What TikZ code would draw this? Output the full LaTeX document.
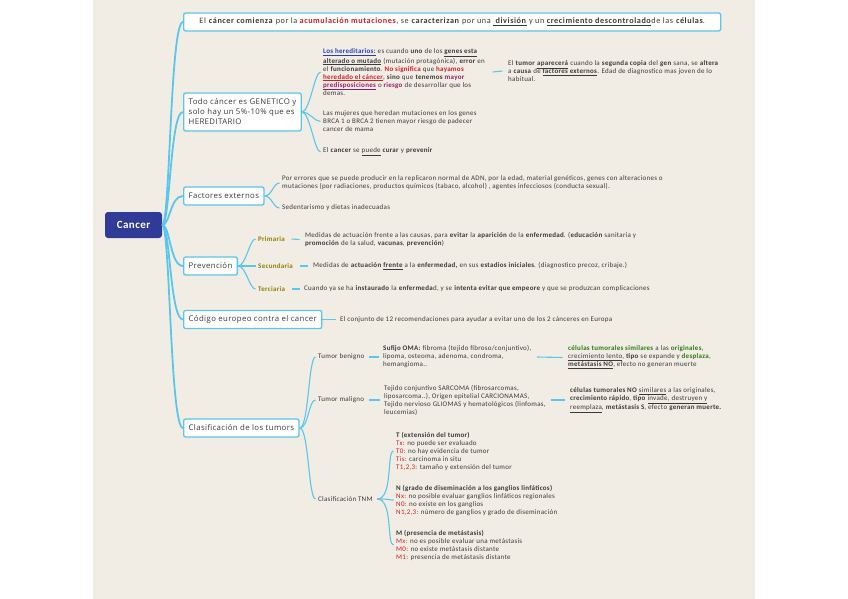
\documentclass[tikz,border=0pt]{standalone}
\usepackage{fontspec}
\setmainfont[LetterSpace=4]{Carlito}
\newfontfamily\widefont[LetterSpace=7]{Carlito}
\newfontfamily\boxfont[LetterSpace=5]{Open Sans}
\definecolor{cyanline}{HTML}{5BC6EC}
\definecolor{redtxt}{HTML}{D11F25}
\definecolor{bluetxt}{HTML}{2A3DB5}
\definecolor{purp}{HTML}{8E1E6B}
\definecolor{olivetxt}{HTML}{8C8200}
\definecolor{greentxt}{HTML}{2E7A12}
\definecolor{txt}{HTML}{3A3A3A}
\definecolor{rootfill}{HTML}{2F3B96}
\definecolor{paper}{HTML}{F1EDE4}
\newcommand{\ub}[1]{\underline{\textbf{#1}}}
\newcommand{\rd}[1]{\textcolor{redtxt}{#1}}
\begin{document}
\begin{tikzpicture}[x=1pt,y=-1pt,
  rootbox/.style={fill=rootfill,rounded corners=3pt,text=white,font=\fontsize{11}{13}\selectfont\bfseries,minimum width=57pt,minimum height=26pt,inner sep=0pt},
  topbox/.style={draw=cyanline,fill=white,line width=1.3pt,rounded corners=2pt,anchor=west,text=txt,font=\boxfont\fontsize{7.8}{10}\selectfont,inner xsep=5pt,inner ysep=0pt,minimum height=18pt,align=left},
  sm/.style={anchor=west,align=left,text=txt,font=\fontsize{7}{8}\selectfont,inner xsep=2.5pt,inner ysep=0pt},
  lbl/.style={sm,font=\fontsize{7}{8}\selectfont\bfseries,text=olivetxt},
  mainline/.style={draw=cyanline,line width=1.8pt},
  subline/.style={draw=cyanline,line width=1.1pt}]
\useasboundingbox (0,0) rectangle (848,599);
\fill[paper] (93,0) rectangle (755,599);

% root
\node[rootbox] (root) at (133.5,225) {Cancer};

% top-level boxes
\node[topbox,font=\widefont\fontsize{8.2}{10}\selectfont,minimum width=537pt,align=center] (b1) at (183,22) {El \textbf{cáncer comienza} por la \rd{\textbf{acumulación mutaciones}}, se \textbf{caracterizan} por una \ub{ división} y un \ub{crecimiento descontrolado}de las \textbf{células}.};
\node[topbox,minimum height=38pt] (b2) at (183,112) {Todo cáncer es GENETICO y\\solo hay un 5\%-10\% que es\\HEREDITARIO};
\node[topbox] (b3) at (183,196) {Factores externos};
\node[topbox] (b4) at (183,266) {Prevención};
\node[topbox] (b5) at (183,319.5) {Código europeo contra el cancer};
\node[topbox] (b6) at (183,428) {Clasificación de los tumors};

\foreach \b in {b1,b2,b3,b4,b5,b6}
  \draw[mainline] (root.east) .. controls +(8,0) and +(-13,0) .. (\b.west);

% box 2 children
\node[sm] (c1) at (320.5,72) {\textcolor{bluetxt}{\ub{Los hereditarios:}} es cuando \textbf{uno} de los \ub{genes esta}\\
\ub{alterado o mutado} (mutación protagónica), \textbf{error} en\\
el \textbf{funcionamiento}. \rd{\textbf{No significa}} que \rd{\textbf{hayamos}}\\
\rd{\ub{heredado el cáncer}}, \textbf{sino} que \textbf{tenemos} \textcolor{purp}{\textbf{mayor}}\\
\textcolor{purp}{\ub{predisposiciones}} o \textcolor{purp}{\textbf{riesgo}} de desarrollar que los\\
demas.};
\node[sm] (c2) at (320.5,121.5) {Las mujeres que heredan mutaciones en los genes\\BRCA 1 o BRCA 2 tienen mayor riesgo de padecer\\cancer de mama};
\node[sm] (c3) at (320.5,152) {El \textbf{cancer} se \underline{puede} \textbf{curar} y \textbf{prevenir}};
\node[sm] (gc) at (505.5,71) {El \textbf{tumor} \ub{aparecerá} cuando la \textbf{segunda copia} del \textbf{gen} sana, se \textbf{altera}\\
a \textbf{causa} de \ub{factores externos}. Edad de diagnostico mas joven de lo\\
habitual.};
\foreach \c in {c1,c2,c3}
  \draw[subline] (b2.east) .. controls +(8,0) and +(-6,0) .. (\c.west);
\draw[subline] ([xshift=5pt]c1.east) -- ([xshift=-3pt]gc.west);

% factores externos
\node[sm] (f1) at (279.5,183) {Por errores que se puede producir en la replicaron normal de ADN, por la edad, material genéticos, genes con alteraciones o\\mutaciones (por radiaciones, productos químicos (tabaco, alcohol) , agentes infecciosos (conducta sexual).};
\node[sm] (f2) at (279.5,208) {Sedentarismo y dietas inadecuadas};
\foreach \c in {f1,f2}
  \draw[subline] (b3.east) .. controls +(7,0) and +(-6,0) .. (\c.west);

% prevencion
\node[lbl] (p1) at (255.5,239) {Primaria};
\node[lbl] (p2) at (255.5,266) {Secundaria};
\node[lbl] (p3) at (255.5,289) {Terciaria};
\foreach \c in {p1,p2,p3}
  \draw[subline] (b4.east) .. controls +(8,0) and +(-6,0) .. (\c.west);
\node[sm] (p1t) at (302.5,239.5) {Medidas de actuación frente a las causas, para \textbf{evitar} la \textbf{aparición} de la \textbf{enfermedad}. (\textbf{educación} sanitaria y\\\textbf{promoción} de la salud, \textbf{vacunas}, \textbf{prevención})};
\node[sm] (p2t) at (310.5,266) {Medidas de \textbf{actuación} \ub{frente} a la \textbf{enfermedad,} en sus \textbf{estadios iniciales}. (diagnostico precoz, cribaje.)};
\node[sm] (p3t) at (301.5,289) {Cuando ya se ha \textbf{instaurado} la \textbf{enfermeda}d, y se \textbf{intenta evitar que empeore} y que se produzcan complicaciones};
\draw[subline] ([xshift=4pt]p1.east) -- ([xshift=-3pt]p1t.west);
\draw[subline] ([xshift=4pt]p2.east) -- ([xshift=-3pt]p2t.west);
\draw[subline] ([xshift=4pt]p3.east) -- ([xshift=-2pt]p3t.west);

% codigo europeo
\node[sm] (e1) at (337.5,319.5) {El conjunto de 12 recomendaciones para ayudar a evitar uno de los 2 cánceres en Europa};
\draw[subline] (b5.east) -- ([xshift=-2pt]e1.west);

% clasificacion
\node[sm] (t1) at (315.5,357) {Tumor benigno};
\node[sm] (t2) at (315.5,400) {Tumor maligno};
\node[sm] (t3) at (315.5,499) {Clasificación TNM};
\foreach \c in {t1,t2,t3}
  \draw[subline] (b6.east) .. controls +(9,0) and +(-7,0) .. (\c.west);
\node[sm] (t1a) at (380.5,357) {\textbf{Sufijo OMA:} fibroma (tejido fibroso/conjuntivo),\\lipoma, osteoma, adenoma, condroma,\\hemangioma..};
\node[sm] (t1b) at (565.5,357.5) {\textcolor{greentxt}{\textbf{células tumorales similares}} a las \textcolor{greentxt}{\textbf{originales}},\\\underline{crecimiento lento}, \textbf{tipo} se expande y \textcolor{greentxt}{\textbf{desplaza}},\\\ub{metástasis NO}, efecto no generan muerte};
\node[sm] (t2a) at (381.5,400) {Tejido conjuntivo SARCOMA (fibrosarcomas,\\liposarcoma..), Origen epitelial CARCIONAMAS,\\Tejido nervioso GLIOMAS y hematológicos (linfomas,\\leucemias)};
\node[sm] (t2b) at (567.5,400) {\textbf{células tumorales NO} \underline{similares} a las originales,\\\textbf{crecimiento rápido}, \textbf{tipo} \underline{invade, destruyen y}\\\underline{reemplaza}, \textbf{metástasis S}, efecto \textbf{generan muerte.}};
\draw[subline] ([xshift=2pt]t1.east) -- ([xshift=-2pt]t1a.west);
\draw[subline] ([xshift=2pt]t2.east) -- ([xshift=-2pt]t2a.west);
\draw[subline] ([xshift=3pt]t1a.east) -- ([xshift=-3pt]t1b.west);
\draw[subline] ([xshift=3pt]t2a.east) -- ([xshift=-3pt]t2b.west);

% TNM
\node[sm] (tt) at (393.5,451) {\textbf{T (extensión del tumor)}\\\rd{Tx:} no puede ser evaluado\\\rd{T0:} no hay evidencia de tumor\\\rd{Tis:} carcinoma in situ\\\rd{T1,2,3:} tamaño y extensión del tumor};
\node[sm] (tn) at (393.5,500) {\textbf{N (grado de diseminación a los ganglios linfáticos)}\\\rd{Nx:} no posible evaluar ganglios linfáticos regionales\\\rd{N0:} no existe en los ganglios\\\rd{N1,2,3:} número de ganglios y grado de diseminación};
\node[sm] (tm) at (393.5,545) {\textbf{M (presencia de metástasis)}\\\rd{Mx:} no es posible evaluar una metástasis\\\rd{M0:} no existe metástasis distante\\\rd{M1:} presencia de metástasis distante};
\foreach \c in {tt,tn,tm}
  \draw[subline] ([xshift=2pt]t3.east) .. controls +(16,0) and +(-7,0) .. (\c.west);
\end{tikzpicture}
\end{document}
